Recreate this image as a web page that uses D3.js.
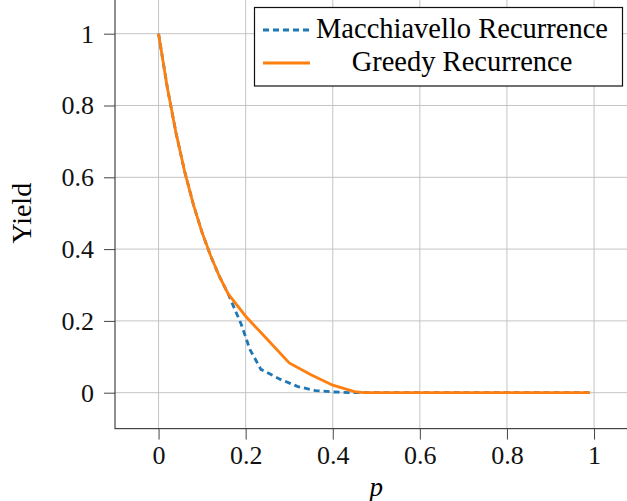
<!DOCTYPE html>
<html>
<head>
<meta charset="utf-8">
<script src="https://cdn.jsdelivr.net/npm/d3@7"></script>
<style>
  body { margin: 0; background: #fff; }
  svg { display: block; font-family: "Liberation Serif", "DejaVu Serif", serif; }
</style>
</head>
<body>
<svg id="chart" width="627" height="501"></svg>
<script>
// p values and yields
const macchiavelloP = [0, 0.02, 0.04, 0.06, 0.08, 0.10, 0.12, 0.14, 0.16, 0.19, 0.21, 0.235, 0.28, 0.32, 0.36, 0.40, 0.45, 0.5, 0.6, 0.7, 0.8, 0.9, 0.99];
const macchiavelloYield = [1, 0.851, 0.724, 0.616, 0.524, 0.446, 0.38, 0.323, 0.275, 0.19, 0.12, 0.065, 0.037, 0.017, 0.006, 0.002, 0, 0, 0, 0, 0, 0, 0];
const greedyP = [0, 0.02, 0.04, 0.06, 0.08, 0.10, 0.12, 0.14, 0.16, 0.2, 0.25, 0.3, 0.35, 0.4, 0.45, 0.47, 0.5, 0.6, 0.7, 0.8, 0.9, 0.99];
const greedyYield = [1, 0.851, 0.724, 0.616, 0.524, 0.446, 0.38, 0.323, 0.275, 0.213, 0.148, 0.083, 0.05, 0.021, 0.003, 0, 0, 0, 0, 0, 0, 0];
const xTicks = [0, 0.2, 0.4, 0.6, 0.8, 1];
const yTicks = [0, 0.2, 0.4, 0.6, 0.8, 1];
const seriesNames = ["Macchiavello Recurrence", "Greedy Recurrence"];

const svg = d3.select("#chart");
const plot = { left: 115, right: 637.6, top: -2.2, bottom: 428.6 };

const x = d3.scaleLinear().domain([-0.1, 1.1]).range([plot.left, plot.right]);
const y = d3.scaleLinear().domain([-0.1, 1.1]).range([plot.bottom, plot.top]);

// grid
const grid = svg.append("g").attr("stroke", "#c4c4c4").attr("stroke-width", 1);
grid.selectAll(".gx").data(xTicks).join("line")
  .attr("x1", d => x(d)).attr("x2", d => x(d))
  .attr("y1", plot.top).attr("y2", plot.bottom);
grid.selectAll(".gy").data(yTicks).join("line")
  .attr("x1", plot.left).attr("x2", plot.right)
  .attr("y1", d => y(d)).attr("y2", d => y(d));

// axes
const fmt = d => d3.format("")(d);
const xAxis = svg.append("g")
  .attr("transform", `translate(0,${plot.bottom})`)
  .call(d3.axisBottom(x).tickValues(xTicks).tickSize(11).tickPadding(6).tickSizeOuter(0).tickFormat(fmt));
const yAxis = svg.append("g")
  .attr("transform", `translate(${plot.left},0)`)
  .call(d3.axisLeft(y).tickValues(yTicks).tickSize(11).tickPadding(10).tickSizeOuter(0).tickFormat(fmt));

[xAxis, yAxis].forEach(a => {
  a.select(".domain").remove();
  a.selectAll("line").attr("stroke", "#444");
  a.selectAll("text").attr("font-size", 26).attr("fill", "#111")
    .attr("font-family", "Liberation Serif, serif");
});

// frame
svg.append("rect")
  .attr("x", plot.left).attr("y", plot.top)
  .attr("width", plot.right - plot.left).attr("height", plot.bottom - plot.top)
  .attr("fill", "none").attr("stroke", "#444").attr("stroke-width", 1.2);

// lines
const line = d3.line().x(d => x(d[0])).y(d => y(d[1]));
svg.append("path")
  .datum(d3.zip(macchiavelloP, macchiavelloYield))
  .attr("d", line)
  .attr("fill", "none")
  .attr("stroke", "#1f77b4")
  .attr("stroke-width", 2.8)
  .attr("stroke-dasharray", "6,4");
svg.append("path")
  .datum(d3.zip(greedyP, greedyYield))
  .attr("d", line)
  .attr("fill", "none")
  .attr("stroke", "#ff7f0e")
  .attr("stroke-width", 2.8);

// axis labels
svg.append("text")
  .attr("x", (plot.left + plot.right) / 2).attr("y", 496)
  .attr("text-anchor", "middle")
  .attr("font-size", 27).attr("font-style", "italic")
  .text("p");
svg.append("text")
  .attr("transform", `translate(31,${(plot.top + plot.bottom) / 2}) rotate(-90)`)
  .attr("text-anchor", "middle")
  .attr("font-size", 28)
  .text("Yield");

// legend
const legend = svg.append("g");
legend.append("rect")
  .attr("x", 254.5).attr("y", 7.5).attr("width", 368).attr("height", 78.5)
  .attr("fill", "#fff").attr("stroke", "#111").attr("stroke-width", 1.2);
const legendItems = [
  { name: seriesNames[0], color: "#1f77b4", dash: "6,4", y: 30 },
  { name: seriesNames[1], color: "#ff7f0e", dash: null, y: 63 }
];
legend.selectAll(".lg-line").data(legendItems).join("line")
  .attr("x1", 263).attr("x2", 310)
  .attr("y1", d => d.y).attr("y2", d => d.y)
  .attr("stroke", d => d.color).attr("stroke-width", 2.8)
  .attr("stroke-dasharray", d => d.dash);
legend.selectAll(".lg-text").data(legendItems).join("text")
  .attr("x", 462).attr("y", d => d.y + 8)
  .attr("text-anchor", "middle")
  .attr("font-size", 28.5)
  .text(d => d.name);
</script>
</body>
</html>
